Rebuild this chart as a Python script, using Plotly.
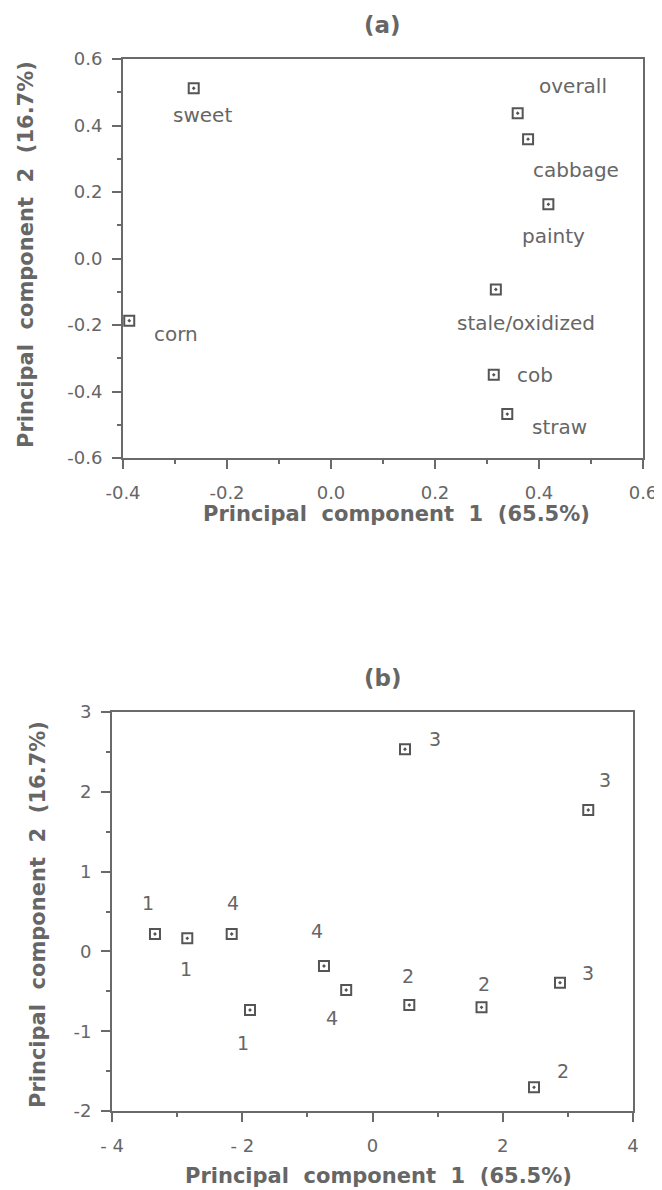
import plotly.graph_objects as go

# ---------------- data: panel (a) loadings ----------------
attributes_a = ["sweet", "overall", "cabbage", "painty", "stale/oxidized", "corn", "cob", "straw"]
pc1_a = [-0.264, 0.359, 0.379, 0.418, 0.317, -0.388, 0.313, 0.339]
pc2_a = [0.512, 0.437, 0.359, 0.163, -0.093, -0.187, -0.350, -0.468]

# ---------------- data: panel (b) scores ----------------
group_b = ["1", "1", "4", "1", "4", "4", "3", "2", "2", "2", "3", "3"]
pc1_b = [-3.340, -2.844, -2.162, -1.881, -0.745, -0.404, 0.499, 0.565, 1.674, 2.480, 2.879, 3.313]
pc2_b = [0.218, 0.164, 0.218, -0.734, -0.183, -0.484, 2.533, -0.672, -0.701, -1.703, -0.392, 1.772]

# tick labels
ticks_a_x = [-0.4, -0.2, 0.0, 0.2, 0.4, 0.6]
ticktext_a_x = ["-0.4", "-0.2", "0.0", "0.2", "0.4", "0.6"]
ticks_a_y = [-0.6, -0.4, -0.2, 0.0, 0.2, 0.4, 0.6]
ticktext_a_y = ["-0.6", "-0.4", "-0.2", "0.0", "0.2", "0.4", "0.6"]
ticks_b_x = [-4, -2, 0, 2, 4]
ticktext_b_x = ["- 4", "- 2", "0", "2", "4"]
ticks_b_y = [-2, -1, 0, 1, 2, 3]
ticktext_b_y = ["-2", "-1", "0", "1", "2", "3"]

x_title = "Principal\u00a0\u00a0component\u00a0\u00a01\u00a0\u00a0(65.5%)"
y_title = "Principal\u00a0\u00a0component\u00a0\u00a02\u00a0\u00a0(16.7%)"

# label offsets in pixels (style / placement)
offsets_a = [(9, -27), (55, 27), (48, -31), (5, -32), (30, -34), (47, -13), (41, 0), (52, -13)]
offsets_b = [(-7, 31), (-1, -31), (1, 31), (-7, -33), (-7, 35), (-14, -28),
             (30, 10), (-1, 29), (2, 23), (29, 16), (28, 10), (17, 30)]

TXT = "#666666"
LINE = "#6a6a6a"
MK = "#555555"
FONT = "DejaVu Sans"

PAGE_OFF = 8            # default body margin of the html page
W, H = 662 - PAGE_OFF, 1190 - PAGE_OFF

fig = go.Figure()
fig.add_trace(go.Scatter(
    x=pc1_a, y=pc2_a, mode="markers", xaxis="x", yaxis="y",
    marker=dict(symbol="square-open-dot", size=10, color=MK, line=dict(width=2, color=MK)),
    showlegend=False, hoverinfo="skip"))
fig.add_trace(go.Scatter(
    x=pc1_b, y=pc2_b, mode="markers", xaxis="x2", yaxis="y2",
    marker=dict(symbol="square-open-dot", size=10, color=MK, line=dict(width=2, color=MK)),
    showlegend=False, hoverinfo="skip"))

annotations = []
for name, x, y, (dx, dy) in zip(attributes_a, pc1_a, pc2_a, offsets_a):
    annotations.append(dict(x=x, y=y, xref="x", yref="y", text=name, showarrow=False,
                            xanchor="center", yanchor="middle",
                            xshift=dx, yshift=dy, font=dict(family=FONT, size=20, color=TXT)))
for g, x, y, (dx, dy) in zip(group_b, pc1_b, pc2_b, offsets_b):
    annotations.append(dict(x=x, y=y, xref="x2", yref="y2", text=g, showarrow=False,
                            xanchor="center", yanchor="middle",
                            xshift=dx, yshift=dy, font=dict(family=FONT, size=19, color=TXT)))

def px(xp):
    return (xp - PAGE_OFF) / W

def py(yp):
    return 1 - (yp - PAGE_OFF) / H

title_font = dict(family=FONT, size=23, color=TXT, weight="bold")
axis_title_font = dict(family=FONT, size=21, color=TXT, weight="bold")
for (cx, cy, txt, ang) in [(382, 25, "(a)", 0), (383, 678, "(b)", 0),
                           (396, 514, x_title, 0), (26, 255, y_title, -90),
                           (378, 1176, x_title, 0), (38, 915, y_title, -90)]:
    annotations.append(dict(x=px(cx), y=py(cy), xref="paper", yref="paper", text=txt,
                            showarrow=False, textangle=ang, xanchor="center", yanchor="middle",
                            font=title_font if txt.startswith("(") else axis_title_font))

def axis_common(standoff, **kw):
    d = dict(showline=True, linewidth=2, linecolor=LINE, mirror=True, showgrid=False, zeroline=False,
             ticks="outside", ticklen=9, tickwidth=2, tickcolor=LINE, automargin=False,
             tickfont=dict(family=FONT, size=18, color=TXT), ticklabelstandoff=standoff, fixedrange=True)
    d.update(kw)
    return d

def minor(dt):
    return dict(dtick=dt, tick0=0, ticks="outside", ticklen=4, tickwidth=2, tickcolor=LINE)

fig.update_layout(
    width=W, height=H, margin=dict(l=0, r=0, t=0, b=0, autoexpand=False),
    paper_bgcolor="white", plot_bgcolor="white",
    xaxis=axis_common(8, domain=[px(123), px(643)], range=[-0.4, 0.6], tickvals=ticks_a_x,
                      ticktext=ticktext_a_x, minor=minor(0.1), anchor="y"),
    yaxis=axis_common(6, domain=[py(458), py(59)], range=[-0.6, 0.6], tickvals=ticks_a_y,
                      ticktext=ticktext_a_y, minor=minor(0.1), anchor="x"),
    xaxis2=axis_common(8, domain=[px(112), px(633)], range=[-4, 4], tickvals=ticks_b_x,
                       ticktext=ticktext_b_x, minor=minor(1), anchor="y2"),
    yaxis2=axis_common(6, domain=[py(1111), py(712)], range=[-2, 3], tickvals=ticks_b_y,
                       ticktext=ticktext_b_y, minor=minor(0.5), anchor="x2"),
    annotations=annotations,
)

fig.write_html("out.html")
